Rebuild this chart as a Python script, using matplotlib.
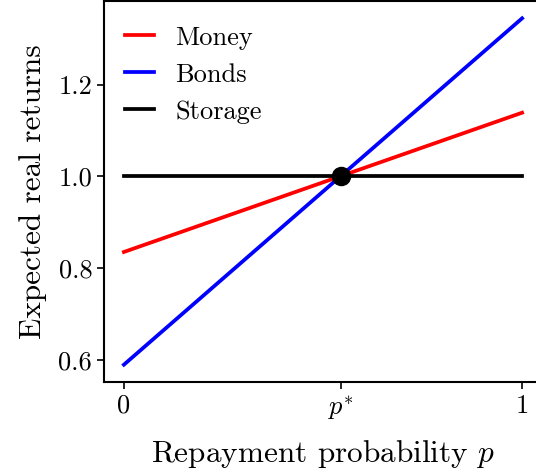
import matplotlib
matplotlib.use("Agg")
import matplotlib.pyplot as plt

plt.rcParams['font.family'] = 'serif'
plt.rcParams['font.serif'] = ['cmr10']
plt.rcParams['mathtext.fontset'] = 'cm'
plt.rcParams['axes.formatter.use_mathtext'] = True

# returns at p = 0 and p = 1
p = [0.0, 1.0]
money = [0.835, 1.139]
bonds = [0.589, 1.345]
storage = [1.0, 1.0]
p_star = 0.544
x_ticks = [0.0, p_star, 1.0]
x_ticklabels = ['0', r'$p^{*}$', '1']
y_ticks = [0.6, 0.8, 1.0, 1.2]

fig = plt.figure(figsize=(5.36, 4.73), dpi=100)
ax = fig.add_axes([104 / 536, 91 / 473, 438 / 536, 381 / 473])

ax.plot(p, money, color='red', lw=2.7, label='Money')
ax.plot(p, bonds, color='blue', lw=2.7, label='Bonds')
ax.plot(p, storage, color='black', lw=2.7, label='Storage')
ax.plot([p_star], [1.0], 'o', color='black', ms=13, zorder=5)

ax.set_xticks(x_ticks)
ax.set_xticklabels(x_ticklabels)
ax.set_yticks(y_ticks)
ax.set_yticklabels(['%.1f' % v for v in y_ticks])
ax.tick_params(labelsize=19, length=5, width=1.2)
for s in ax.spines.values():
    s.set_linewidth(1.5)

ax.set_xlabel(r'Repayment probability $p$', fontsize=22.5, labelpad=12)
ax.set_ylabel('Expected real returns', fontsize=22.5, labelpad=8)

ax.legend(loc='upper left', bbox_to_anchor=(0, 0.99), frameon=False,
          fontsize=19, handlelength=1.1, handletextpad=0.8,
          labelspacing=0.5, borderaxespad=0.4)

plt.savefig('out.png', dpi=100)
